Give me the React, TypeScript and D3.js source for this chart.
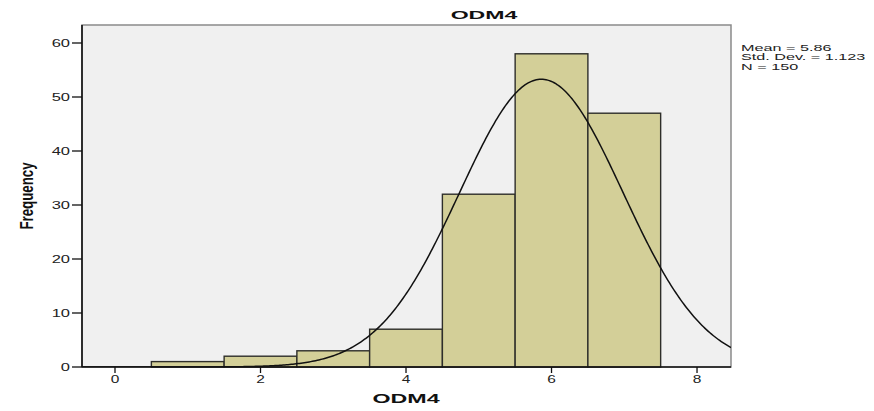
import React from "react";
import * as d3 from "d3";

// Histogram of ODM4 with fitted normal curve
const binStarts = [0.5, 1.5, 2.5, 3.5, 4.5, 5.5, 6.5];
const binWidth = 1;
const frequencies = [1, 2, 3, 7, 32, 58, 47];
const xTicks = [0, 2, 4, 6, 8];
const yTicks = [0, 10, 20, 30, 40, 50, 60];
const mean = 5.86;
const stdDev = 1.123;
const n = 150;
const statLines = ["Mean = 5.86", "Std. Dev. = 1.123", "N = 150"];

const W = 874;
const H = 411;
const plot = { left: 82, right: 731, top: 25, bottom: 367 };

const FONT = "'Liberation Sans', Arial, sans-serif";

export default function App() {
  const x = d3
    .scaleLinear()
    .domain([-0.4536, 8.467])
    .range([plot.left, plot.right]);
  const y = d3
    .scaleLinear()
    .domain([0, (plot.bottom - plot.top) / 5.4])
    .range([plot.bottom, plot.top]);

  const pdf = (v: number) =>
    ((n * binWidth) / (stdDev * Math.sqrt(2 * Math.PI))) *
    Math.exp(-0.5 * ((v - mean) / stdDev) ** 2);
  const [d0, d1] = x.domain();
  const curvePts = d3.range(0, 401).map((i) => {
    const v = d0 + ((d1 - d0) * i) / 400;
    return [v, pdf(v)] as [number, number];
  });
  const line = d3
    .line<[number, number]>()
    .x((d) => x(d[0]))
    .y((d) => y(d[1]))
    .curve(d3.curveLinear);

  return (
    <svg
      width={W}
      height={H}
      style={{ position: "absolute", left: 0, top: 0, background: "#fff" }}
    >
      <defs>
        <clipPath id="plotClip">
          <rect
            x={plot.left}
            y={plot.top}
            width={plot.right - plot.left}
            height={plot.bottom - plot.top}
          />
        </clipPath>
      </defs>
      {/* plot background and frame */}
      <rect
        x={plot.left}
        y={plot.top}
        width={plot.right - plot.left}
        height={plot.bottom - plot.top}
        fill="#f0f0f0"
        stroke="#8a8a8a"
        strokeWidth={1.5}
      />

      {/* bars */}
      <g>
        {frequencies.map((f, i) => (
          <rect
            key={i}
            x={x(binStarts[i])}
            y={y(f)}
            width={x(binStarts[i] + binWidth) - x(binStarts[i])}
            height={y(0) - y(f)}
            fill="#d3cf98"
            stroke="#2e2e2a"
            strokeWidth={1.4}
          />
        ))}
      </g>

      {/* normal curve */}
      <path
        d={line(curvePts) || ""}
        fill="none"
        stroke="#111"
        strokeWidth={1.5}
        clipPath="url(#plotClip)"
      />

      {/* axes lines */}
      <line
        x1={plot.left}
        x2={plot.left}
        y1={plot.top}
        y2={plot.bottom}
        stroke="#111"
        strokeWidth={1.6}
      />
      <line
        x1={plot.left}
        x2={plot.right}
        y1={plot.bottom}
        y2={plot.bottom}
        stroke="#111"
        strokeWidth={1.6}
      />

      {/* y ticks */}
      {yTicks.map((t) => (
        <g key={t}>
          <line
            x1={plot.left - 10}
            x2={plot.left}
            y1={y(t)}
            y2={y(t)}
            stroke="#111"
            strokeWidth={1.3}
          />
          <text
            transform={`translate(${plot.left - 12},${y(t) + 3.6}) scale(1.65,1)`}
            textAnchor="end"
            fontFamily={FONT}
            fontSize={10}
            fill="#222"
          >
            {t}
          </text>
        </g>
      ))}

      {/* x ticks */}
      {xTicks.map((t) => (
        <g key={t}>
          <line
            x1={x(t)}
            x2={x(t)}
            y1={plot.bottom}
            y2={plot.bottom + 6}
            stroke="#111"
            strokeWidth={1.3}
          />
          <text
            transform={`translate(${x(t)},${plot.bottom + 16}) scale(1.55,1)`}
            textAnchor="middle"
            fontFamily={FONT}
            fontSize={10}
            fill="#222"
          >
            {t}
          </text>
        </g>
      ))}

      {/* title */}
      <text
        transform={`translate(484,18.5) scale(2.1,1)`}
        textAnchor="middle"
        fontFamily={FONT}
        fontWeight="bold"
        fontSize={11}
        fill="#111"
      >
        ODM4
      </text>

      {/* x axis label */}
      <text
        transform={`translate(406,403) scale(1.86,1)`}
        textAnchor="middle"
        fontFamily={FONT}
        fontWeight="bold"
        fontSize={12.5}
        fill="#111"
      >
        ODM4
      </text>

      {/* y axis label */}
      <text
        transform={`translate(33,196) rotate(-90) scale(0.76,1)`}
        textAnchor="middle"
        fontFamily={FONT}
        fontWeight="bold"
        fontSize={17.5}
        fill="#111"
      >
        Frequency
      </text>

      {/* summary statistics */}
      {statLines.map((s, i) => (
        <text
          key={s}
          transform={`translate(741,${51 + i * 9.3}) scale(1.8,1)`}
          fontFamily={FONT}
          fontSize={9}
          fill="#222"
        >
          {s}
        </text>
      ))}
    </svg>
  );
}
